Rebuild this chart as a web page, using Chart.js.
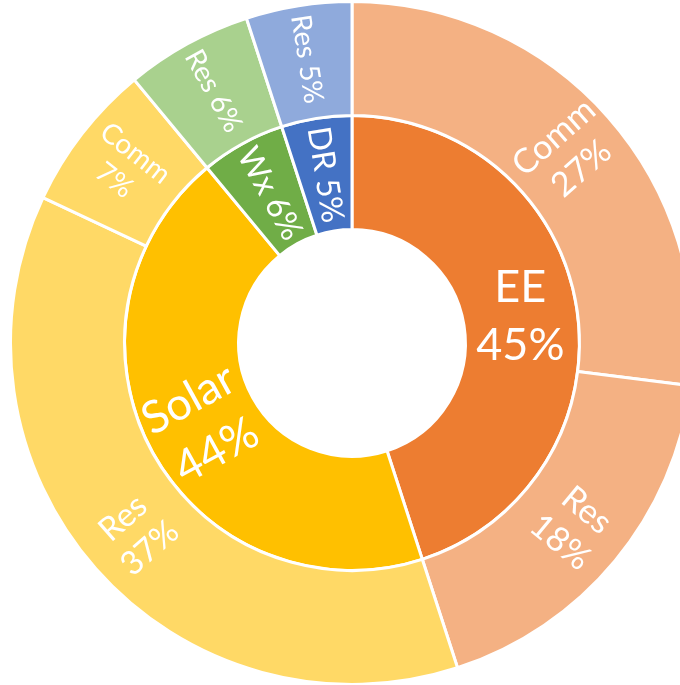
<!DOCTYPE html>
<html>
<head>
<meta charset="utf-8">
<script src="https://cdn.jsdelivr.net/npm/chart.js@4"></script>
<style>
  html, body { margin: 0; padding: 0; overflow: hidden; background: #fff; }
  #wrap { width: 680px; height: 685px; overflow: hidden; position: relative; }
  #sun { position: absolute; left: 0; top: 0; }
</style>
</head>
<body>
<div id="wrap"><canvas id="sun" width="704" height="686"></canvas></div>
<script>
// inner ring: programme
const innerLabels = ['EE', 'Solar', 'Wx', 'DR'];
const innerValues = [45, 44, 6, 5];
// outer ring: sector split of each programme
const outerLabels = ['Comm', 'Res', 'Res', 'Comm', 'Res', 'Res'];
const outerValues = [27, 18, 37, 7, 6, 5];

const innerColors = ['#ED7D31', '#FFC000', '#70AD47', '#4472C4'];
const outerColors = ['#F4B183', '#F4B183', '#FFD966', '#FFD966', '#A9D18E', '#8FAADC'];

// label look per slice: font size, two lines or one, rotate with the slice
const innerText = [
  { size: 45, split: true, rotate: false },
  { size: 45, split: true, rotate: true },
  { size: 32, split: false, rotate: true },
  { size: 32, split: false, rotate: true }
];
const outerText = [
  { size: 34, split: true, rotate: true },
  { size: 34, split: true, rotate: true },
  { size: 33, split: true, rotate: true },
  { size: 28, split: true, rotate: true },
  { size: 28, split: false, rotate: true },
  { size: 28, split: false, rotate: true }
];

const ringLabels = {
  id: 'ringLabels',
  afterDatasetsDraw(chart) {
    const ctx = chart.ctx;
    chart.data.datasets.forEach((ds, di) => {
      const meta = chart.getDatasetMeta(di);
      meta.data.forEach((arc, i) => {
        const p = arc.getProps(['x', 'y', 'startAngle', 'endAngle', 'innerRadius', 'outerRadius']);
        const a = (p.startAngle + p.endAngle) / 2;
        const r = (p.innerRadius + p.outerRadius) / 2 + (di === 0 ? 3 : 0);
        const st = ds.textStyle[i];
        const name = ds.names[i];
        const pct = ds.data[i] + '%';
        const lines = st.split ? [name, pct] : [name + ' ' + pct];

        // right half reads outward, left half reads inward
        let rot = 0;
        if (st.rotate) {
          const fromTop = a + Math.PI / 2;
          rot = fromTop < Math.PI ? a : a - Math.PI;
        }

        ctx.save();
        ctx.translate(p.x + Math.cos(a) * r, p.y + Math.sin(a) * r);
        ctx.rotate(rot);
        ctx.fillStyle = '#fff';
        ctx.font = st.size + 'px Lato';
        ctx.textAlign = 'center';
        ctx.textBaseline = 'middle';
        const lh = st.size * (di === 1 ? 1.3 : 1.22);
        lines.forEach((t, k) => {
          ctx.fillText(t, 0, (k - (lines.length - 1) / 2) * lh);
        });
        ctx.restore();
      });
    });
  }
};

new Chart(document.getElementById('sun'), {
  type: 'doughnut',
  data: {
    labels: outerLabels,
    datasets: [
      {
        data: outerValues,
        names: outerLabels,
        textStyle: outerText,
        backgroundColor: outerColors,
        borderColor: '#fff',
        borderWidth: 3
      },
      {
        data: innerValues,
        names: innerLabels,
        textStyle: innerText,
        backgroundColor: innerColors,
        borderColor: '#fff',
        borderWidth: 3
      }
    ]
  },
  options: {
    responsive: false,
    animation: false,
    cutout: '33.2%',
    layout: { padding: 0 },
    plugins: {
      legend: { display: false },
      tooltip: { enabled: false }
    }
  },
  plugins: [ringLabels]
});
</script>
</body>
</html>
